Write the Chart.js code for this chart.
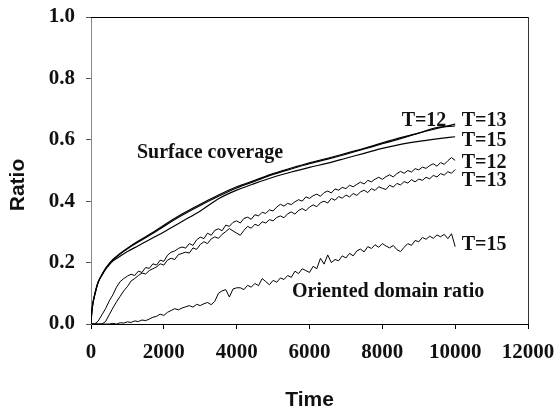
<!DOCTYPE html>
<html>
<head>
<meta charset="utf-8">
<script src="https://cdn.jsdelivr.net/npm/chart.js@4.4.1/dist/chart.umd.min.js"></script>
<style>
  html, body { margin: 0; padding: 0; background: #fff; }
  #wrap { width: 554px; height: 411px; }
</style>
</head>
<body>
<div id="wrap"><canvas id="chart" width="554" height="411"></canvas></div>
<script>
// Surface coverage curves (smooth)
const surfaceTime = [0, 20, 50, 100, 150, 200, 300, 400, 500, 600, 800, 1000, 1300, 1500, 1750, 2000,
  2500, 3000, 3500, 4000, 4500, 5000, 5500, 6000, 6500, 7000, 7500, 8000, 8500, 9000, 9500, 10000];
const surfaceT12 = [0, 0.038, 0.066, 0.094, 0.118, 0.138, 0.161, 0.181, 0.197, 0.21, 0.23, 0.247, 0.27, 0.284, 0.302, 0.322,
  0.358, 0.39, 0.42, 0.447, 0.468, 0.49, 0.508, 0.525, 0.54, 0.556, 0.572, 0.59, 0.607, 0.622, 0.637, 0.651];
const surfaceT13 = [0, 0.038, 0.066, 0.094, 0.118, 0.137, 0.16, 0.18, 0.196, 0.208, 0.228, 0.245, 0.267, 0.281, 0.299, 0.318,
  0.354, 0.386, 0.416, 0.443, 0.465, 0.487, 0.505, 0.522, 0.537, 0.553, 0.57, 0.587, 0.604, 0.622, 0.64, 0.645];
const surfaceT15 = [0, 0.038, 0.066, 0.094, 0.118, 0.137, 0.159, 0.178, 0.193, 0.205, 0.221, 0.236, 0.255, 0.268, 0.284, 0.3,
  0.334, 0.368, 0.408, 0.436, 0.458, 0.478, 0.495, 0.51, 0.524, 0.54, 0.556, 0.572, 0.585, 0.595, 0.603, 0.61];

// Oriented domain ratio curves (noisy), sampled every 100 time steps
const domainTime = [0, 100, 200, 300, 400, 500, 600, 700, 800, 900, 1000, 1100, 1200, 1300, 1400, 1500, 1600, 1700, 1800, 1900,
  2000, 2100, 2200, 2300, 2400, 2500, 2600, 2700, 2800, 2900, 3000, 3100, 3200, 3300, 3400, 3500, 3600, 3700, 3800, 3900,
  4000, 4100, 4200, 4300, 4400, 4500, 4600, 4700, 4800, 4900, 5000, 5100, 5200, 5300, 5400, 5500, 5600, 5700, 5800, 5900,
  6000, 6100, 6200, 6300, 6400, 6500, 6600, 6700, 6800, 6900, 7000, 7100, 7200, 7300, 7400, 7500, 7600, 7700, 7800, 7900,
  8000, 8100, 8200, 8300, 8400, 8500, 8600, 8700, 8800, 8900, 9000, 9100, 9200, 9300, 9400, 9500, 9600, 9700, 9800, 9900, 10000];
const domainT12 = [0, 0, 0.01, 0.03, 0.05, 0.075, 0.095, 0.12, 0.138, 0.148, 0.156, 0.162, 0.158, 0.172, 0.168, 0.184, 0.181, 0.196, 0.192, 0.208,
  0.204, 0.224, 0.234, 0.238, 0.246, 0.251, 0.247, 0.262, 0.256, 0.274, 0.283, 0.278, 0.296, 0.289, 0.305, 0.31, 0.304, 0.322, 0.318, 0.331,
  0.336, 0.329, 0.344, 0.348, 0.341, 0.356, 0.352, 0.364, 0.36, 0.372, 0.368, 0.381, 0.39, 0.384, 0.393, 0.389, 0.398, 0.405, 0.4, 0.414,
  0.409, 0.418, 0.423, 0.416, 0.428, 0.433, 0.427, 0.44, 0.436, 0.445, 0.441, 0.452, 0.447, 0.455, 0.462, 0.456, 0.468, 0.463, 0.472, 0.478,
  0.471, 0.48, 0.486, 0.479, 0.49, 0.497, 0.491, 0.5, 0.495, 0.506, 0.502, 0.511, 0.507, 0.516, 0.522, 0.514, 0.526, 0.52, 0.532, 0.542, 0.533];
const domainT13 = [0, 0, 0, 0, 0.008, 0.03, 0.052, 0.072, 0.09, 0.108, 0.122, 0.14, 0.148, 0.158, 0.166, 0.163, 0.174, 0.18, 0.186, 0.196,
  0.192, 0.208, 0.214, 0.21, 0.226, 0.23, 0.234, 0.231, 0.248, 0.243, 0.259, 0.268, 0.262, 0.277, 0.284, 0.279, 0.292, 0.301, 0.311, 0.303,
  0.296, 0.289, 0.305, 0.318, 0.312, 0.325, 0.32, 0.333, 0.329, 0.34, 0.336, 0.347, 0.352, 0.346, 0.359, 0.365, 0.358, 0.37, 0.376, 0.369,
  0.381, 0.388, 0.382, 0.395, 0.4, 0.394, 0.409, 0.403, 0.415, 0.41, 0.42, 0.414, 0.425, 0.419, 0.43, 0.436, 0.428, 0.441, 0.435, 0.447,
  0.442, 0.438, 0.452, 0.446, 0.458, 0.453, 0.464, 0.459, 0.47, 0.463, 0.472, 0.468, 0.478, 0.473, 0.484, 0.479, 0.49, 0.485, 0.496, 0.491, 0.503];
const domainT15 = [0, 0, 0, 0, 0, 0, 0.002, 0, 0.004, 0.003, 0.007, 0.005, 0.01, 0.008, 0.013, 0.011, 0.016, 0.022, 0.025, 0.032,
  0.028, 0.038, 0.044, 0.05, 0.046, 0.052, 0.056, 0.06, 0.055, 0.064, 0.06, 0.066, 0.07, 0.063, 0.074, 0.1, 0.108, 0.112, 0.088, 0.114,
  0.118, 0.118, 0.112, 0.126, 0.12, 0.132, 0.125, 0.148, 0.138, 0.128, 0.142, 0.136, 0.15, 0.145, 0.158, 0.152, 0.172, 0.164, 0.18, 0.174,
  0.168, 0.188, 0.18, 0.214, 0.195, 0.225, 0.2, 0.21, 0.206, 0.222, 0.215, 0.23, 0.222, 0.238, 0.244, 0.235, 0.252, 0.246, 0.258, 0.25,
  0.262, 0.254, 0.248, 0.256, 0.242, 0.236, 0.25, 0.262, 0.256, 0.272, 0.268, 0.282, 0.276, 0.286, 0.279, 0.29, 0.284, 0.292, 0.278, 0.294, 0.252];

// Axis tick labels
const xTickLabels = ['0', '2000', '4000', '6000', '8000', '10000', '12000'];
const yTickLabels = ['0.0', '0.2', '0.4', '0.6', '0.8', '1.0'];

// In-plot text labels, anchored in data units (left edge, baseline)
const noteTexts = ['Surface coverage', 'Oriented domain ratio', 'T=12', 'T=13', 'T=15', 'T=12', 'T=13', 'T=15'];
const noteTimes = [1263, 5520, 8530, 10180, 10180, 10180, 10180, 10180];
const noteRatios = [0.541, 0.088, 0.645, 0.645, 0.581, 0.507, 0.45, 0.241];

const serif = "'Liberation Serif', 'Times New Roman', serif";
const sans = "'Liberation Sans', Arial, sans-serif";

function toPoints(times, values) {
  return values.map((v, i) => ({ x: times[i], y: v }));
}

function smoothSet(values) {
  return {
    data: toPoints(surfaceTime, values),
    borderColor: '#000',
    borderWidth: 1.2,
    pointRadius: 0,
    cubicInterpolationMode: 'monotone'
  };
}

function noisySet(values) {
  return {
    data: toPoints(domainTime, values),
    borderColor: '#000',
    borderWidth: 1,
    pointRadius: 0,
    tension: 0
  };
}

const notesPlugin = {
  id: 'notes',
  afterDraw(chart) {
    const { ctx, chartArea, scales: { x, y } } = chart;
    ctx.save();
    // frame top and right
    ctx.lineWidth = 1;
    ctx.strokeStyle = '#000';
    ctx.beginPath();
    ctx.moveTo(chartArea.left, Math.round(chartArea.top) + 0.5);
    ctx.lineTo(chartArea.right, Math.round(chartArea.top) + 0.5);
    ctx.stroke();
    ctx.strokeStyle = '#333';
    ctx.beginPath();
    ctx.moveTo(Math.round(chartArea.right) + 0.5, chartArea.top);
    ctx.lineTo(Math.round(chartArea.right) + 0.5, chartArea.bottom);
    ctx.stroke();

    ctx.fillStyle = '#111';
    ctx.font = 'bold 20px ' + serif;
    ctx.textAlign = 'left';
    ctx.textBaseline = 'alphabetic';
    noteTexts.forEach((text, i) => {
      ctx.fillText(text, x.getPixelForValue(noteTimes[i]), y.getPixelForValue(noteRatios[i]));
    });

    // y axis title
    ctx.font = 'bold 21px ' + sans;
    ctx.textAlign = 'center';
    ctx.textBaseline = 'middle';
    ctx.translate(18.5, 185);
    ctx.rotate(-Math.PI / 2);
    ctx.fillText('Ratio', 0, 0);
    ctx.restore();
  }
};

new Chart(document.getElementById('chart'), {
  type: 'line',
  data: {
    datasets: [
      smoothSet(surfaceT12),
      smoothSet(surfaceT13),
      smoothSet(surfaceT15),
      noisySet(domainT12),
      noisySet(domainT13),
      noisySet(domainT15)
    ]
  },
  options: {
    responsive: false,
    animation: false,
    layout: {
      padding: { top: 17, right: 26, left: 0, bottom: 0 }
    },
    plugins: {
      legend: { display: false },
      tooltip: { enabled: false }
    },
    scales: {
      x: {
        type: 'linear',
        min: 0,
        max: 12000,
        ticks: {
          stepSize: 2000,
          color: '#111',
          padding: 11,
          font: { family: serif, weight: 'bold', size: 21 },
          callback: (value, index) => xTickLabels[index]
        },
        grid: {
          drawOnChartArea: false,
          drawTicks: true,
          tickLength: 5,
          color: '#000'
        },
        border: { color: '#000', width: 1 },
        title: {
          display: true,
          text: 'Time',
          color: '#111',
          font: { family: sans, weight: 'bold', size: 21, lineHeight: 1 },
          padding: { top: 0, bottom: 0 }
        },
        afterFit: (scale) => {
          scale.height = 87;
          scale.paddingLeft = 0;
          scale.paddingRight = 0;
        }
      },
      y: {
        min: 0,
        max: 1,
        ticks: {
          stepSize: 0.2,
          color: '#111',
          padding: 11,
          font: { family: serif, weight: 'bold', size: 21 },
          callback: (value, index) => yTickLabels[index]
        },
        grid: {
          drawOnChartArea: false,
          drawTicks: true,
          tickLength: 5,
          color: '#555'
        },
        border: { color: '#888', width: 1 },
        afterFit: (scale) => {
          scale.width = 91;
          scale.paddingTop = 0;
          scale.paddingBottom = 0;
        }
      }
    }
  },
  plugins: [notesPlugin]
});
</script>
</body>
</html>
